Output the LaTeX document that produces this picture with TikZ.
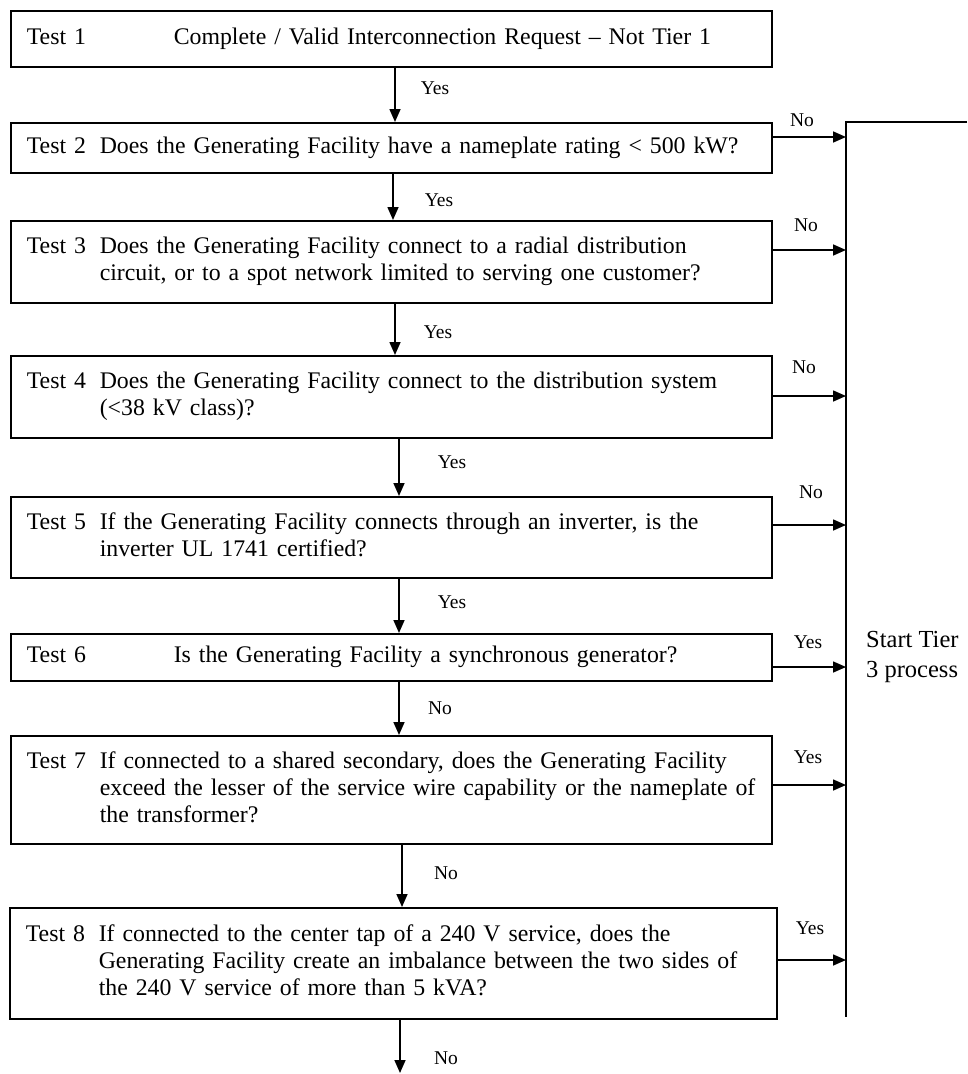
\documentclass[tikz,border=0pt]{standalone}
\usepackage{fontspec}
\setmainfont{Liberation Serif}
\usetikzlibrary{arrows.meta}
\begin{document}
\begin{tikzpicture}[x=1pt,y=-1pt,
  box/.style={draw, line width=1.6pt, anchor=north west, inner xsep=16pt, inner ysep=0pt,
    text width=729pt, align=left, font=\fontsize{23.8}{27}\selectfont},
  arr/.style={line width=1.6pt, -{Triangle[length=13pt,width=11pt]}},
  lbl/.style={font=\fontsize{19.5}{22}\selectfont, inner sep=0pt},
  rail/.style={line width=1.4pt}]
\useasboundingbox (0,0) rectangle (967,1074);

% boxes
\node[box, minimum height=56pt] (t1) at (10,10)
  {\begin{tabular}{@{}p{147pt}@{}l@{}}Test 1 & Complete / Valid Interconnection Request – Not Tier 1\end{tabular}};
\node[box, minimum height=50pt] (t2) at (10,122)
  {\begin{tabular}{@{}p{73pt}@{}l@{}}Test 2 & Does the Generating Facility have a nameplate rating < 500 kW?\end{tabular}};
\node[box, minimum height=82pt] (t3) at (10,220)
  {\begin{tabular}{@{}p{73pt}@{}l@{}}Test 3 & Does the Generating Facility connect to a radial distribution\\
   & circuit, or to a spot network limited to serving one customer?\end{tabular}};
\node[box, minimum height=82pt] (t4) at (10,355)
  {\begin{tabular}{@{}p{73pt}@{}l@{}}Test 4 & Does the Generating Facility connect to the distribution system\\
   & (<38 kV class)?\end{tabular}};
\node[box, minimum height=81pt] (t5) at (10,496)
  {\begin{tabular}{@{}p{73pt}@{}l@{}}Test 5 & If the Generating Facility connects through an inverter, is the\\
   & inverter UL 1741 certified?\end{tabular}};
\node[box, minimum height=47pt] (t6) at (10,633)
  {\begin{tabular}{@{}p{147pt}@{}l@{}}Test 6 & Is the Generating Facility a synchronous generator?\end{tabular}};
\node[box, minimum height=108pt] (t7) at (10,735)
  {\begin{tabular}{@{}p{73pt}@{}l@{}}Test 7 & If connected to a shared secondary, does the Generating Facility\\
   & exceed the lesser of the service wire capability or the nameplate of\\
   & the transformer?\end{tabular}};
\node[box, minimum height=111pt, text width=735pt] (t8) at (9,907)
  {\begin{tabular}{@{}p{73pt}@{}l@{}}Test 8 & If connected to the center tap of a 240 V service, does the\\
   & Generating Facility create an imbalance between the two sides of\\
   & the 240 V service of more than 5 kVA?\end{tabular}};

% right rail
\coordinate (vt) at (846,122);
\coordinate (vb) at (846,1017);
\coordinate (re) at (967,122);
\draw[rail] (re) -- (vt) -- (vb);

\node[anchor=west, align=left, inner sep=0pt, font=\fontsize{24.5}{30}\selectfont] (st) at (866,657)
  {Start Tier\\3 process};

% down arrows
\coordinate (x1) at (395,0);
\coordinate (x2) at (393,0);
\coordinate (x3) at (395,0);
\coordinate (x4) at (399,0);
\coordinate (x5) at (399,0);
\coordinate (x6) at (399,0);
\coordinate (x7) at (402,0);
\coordinate (x8) at (400,0);
\coordinate (end) at (400,1073);
\draw[arr] (t1.south -| x1) -- (t2.north -| x1);
\draw[arr] (t2.south -| x2) -- (t3.north -| x2);
\draw[arr] (t3.south -| x3) -- (t4.north -| x3);
\draw[arr] (t4.south -| x4) -- (t5.north -| x4);
\draw[arr] (t5.south -| x5) -- (t6.north -| x5);
\draw[arr] (t6.south -| x6) -- (t7.north -| x6);
\draw[arr] (t7.south -| x7) -- (t8.north -| x7);
\draw[arr] (t8.south -| end) -- (end);

\node[lbl] (y1) at (435,88) {Yes};
\node[lbl] (y2) at (439,200) {Yes};
\node[lbl] (y3) at (438,332) {Yes};
\node[lbl] (y4) at (452,462) {Yes};
\node[lbl] (y5) at (452,602) {Yes};
\node[lbl] (n6) at (440,708) {No};
\node[lbl] (n7) at (446,873) {No};
\node[lbl] (n8) at (446,1058) {No};

% right arrows
\draw[arr] (t2.east |- 0,137) -- (vt |- 0,137);
\draw[arr] (t3.east |- 0,250) -- (vt |- 0,250);
\draw[arr] (t4.east |- 0,396) -- (vt |- 0,396);
\draw[arr] (t5.east |- 0,525) -- (vt |- 0,525);
\draw[arr] (t6.east |- 0,667) -- (vt |- 0,667);
\draw[arr] (t7.east |- 0,785) -- (vt |- 0,785);
\draw[arr] (t8.east |- 0,960) -- (vt |- 0,960);

\node[lbl] (r2) at (802,120) {No};
\node[lbl] (r3) at (806,225) {No};
\node[lbl] (r4) at (804,367) {No};
\node[lbl] (r5) at (811,492) {No};
\node[lbl] (r6) at (808,642) {Yes};
\node[lbl] (r7) at (808,757) {Yes};
\node[lbl] (r8) at (810,928) {Yes};
\end{tikzpicture}
\end{document}
